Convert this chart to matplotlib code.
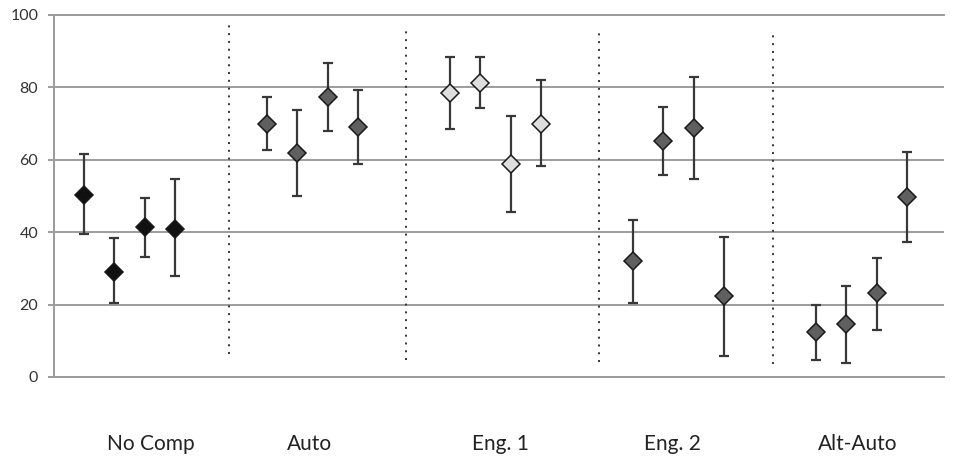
import matplotlib
matplotlib.use("Agg")
import matplotlib.pyplot as plt
import numpy as np

plt.rcParams["font.family"] = ["Lato", "DejaVu Sans"]

# Grupos e valores (média, limite superior, limite inferior)
grupos = ["No Comp", "Auto", "Eng. 1", "Eng. 2", "Alt-Auto"]
inicio_grupo = [1, 7, 13, 19, 25]

media = [
    [50.3, 29.1, 41.4, 40.9],
    [69.9, 62.0, 77.4, 69.1],
    [78.5, 81.2, 58.9, 70.0],
    [32.1, 65.1, 68.8, 22.3],
    [12.5, 14.7, 23.1, 49.8],
]
superior = [
    [61.5, 38.4, 49.4, 54.7],
    [77.3, 73.8, 86.8, 79.4],
    [88.3, 88.3, 72.0, 82.0],
    [43.5, 74.7, 83.0, 38.8],
    [19.9, 25.2, 33.0, 62.1],
]
inferior = [
    [39.5, 20.4, 33.1, 27.8],
    [62.6, 50.1, 67.9, 58.9],
    [68.6, 74.2, 45.7, 58.4],
    [20.4, 55.7, 54.6, 5.8],
    [4.7, 3.8, 13.0, 37.3],
]
cores = ["#111111", "#5f5f5f", "#dedede", "#5f5f5f", "#5f5f5f"]

# Linhas pontilhadas separando os grupos (x, y inicial, y final)
separadores_x = [5.75, 11.55, 17.9, 23.58]
separadores_y0 = [6.3, 4.7, 4.1, 3.6]
separadores_y1 = [97.2, 95.6, 95.0, 95.0]

# Posição dos rótulos dos grupos
rotulos_x = [3.2, 8.41, 14.67, 20.31, 26.38]

cinza = "#9c9c9c"

fig = plt.figure(figsize=(9.58, 4.58), dpi=100)
ax = fig.add_axes([53.5 / 958, 1 - 377 / 458, (944 - 53.5) / 958, (377 - 15) / 458])

for i in range(len(grupos)):
    x = inicio_grupo[i] + np.arange(4)
    m = np.array(media[i])
    erro = [m - np.array(inferior[i]), np.array(superior[i]) - m]
    ax.errorbar(
        x, m, yerr=erro, fmt="none", ecolor="#383838", elinewidth=1.6,
        capsize=3.4, capthick=1.6, zorder=3,
    )
    ax.plot(
        x, m, linestyle="none", marker="D", markersize=9.6,
        markerfacecolor=cores[i], markeredgecolor="#1a1a1a",
        markeredgewidth=1.1, zorder=4,
    )

for sx, y0, y1 in zip(separadores_x, separadores_y0, separadores_y1):
    ax.plot([sx, sx], [y0, y1], color="#333333", linewidth=1.4,
            linestyle=(0, (1, 3)), zorder=2)

for lx, nome in zip(rotulos_x, grupos):
    ax.text(lx, -18.5, nome, ha="center", va="center", fontsize=15,
            color="#222222", clip_on=False)

ax.set_xlim(0, 29.2)
ax.set_ylim(0, 100)
ax.set_yticks(np.arange(0, 101, 20))
ax.set_xticks([])
ax.yaxis.grid(True, color=cinza, linewidth=1.4)
ax.set_axisbelow(True)

for lado in ["top", "bottom", "left"]:
    ax.spines[lado].set_color(cinza)
    ax.spines[lado].set_linewidth(1.4)
ax.spines["right"].set_visible(False)

ax.tick_params(axis="y", length=4, width=1.4, color=cinza, pad=7,
               labelsize=11.5, labelcolor="#333333")

fig.savefig("out.png", dpi=100)
plt.close(fig)
